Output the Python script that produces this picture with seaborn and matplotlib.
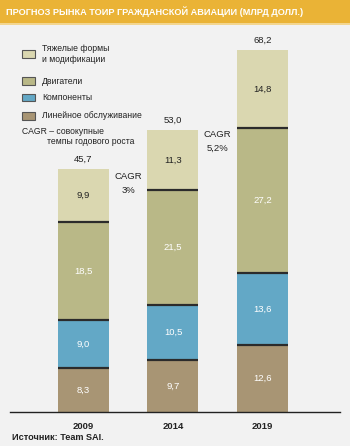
import matplotlib.pyplot as plt
import matplotlib.patches as mpatches
import pandas as pd
import seaborn as sns

# Data (млрд долл.)
years = ["2009", "2014", "2019"]
line_maint = [8.3, 9.7, 12.6]
components = [9.0, 10.5, 13.6]
engines = [18.5, 21.5, 27.2]
heavy = [9.9, 11.3, 14.8]
totals = [45.7, 53.0, 68.2]
cagr = ["3%", "5,2%"]

series_names = ["Линейное обслуживание", "Компоненты", "Двигатели",
                "Тяжелые формы\nи модификации"]
colors = ["#A89574", "#63A8C6", "#B9B887", "#DAD7B0"]
label_colors = ["white", "white", "white", "#222222"]

W, H = 350, 446
BG = "#F2F2F2"

sns.set_style("white")
plt.rcParams["font.family"] = ["Liberation Sans", "DejaVu Sans"]


def fx(x):
    return x / W


def fy(y):
    return 1 - y / H


fig = plt.figure(figsize=(W / 100, H / 100), dpi=100, facecolor=BG)
ax = fig.add_axes([fx(10), fy(412), (340 - 10) / W, (412 - 30) / H])
ax.set_facecolor(BG)

df = pd.DataFrame({"year": years, "line": line_maint, "comp": components,
                   "eng": engines, "heavy": heavy})
layers = ["line", "comp", "eng", "heavy"]
cum = df[layers].cumsum(axis=1)

# draw cumulative bars from the top layer down
for i in range(len(layers) - 1, -1, -1):
    sns.barplot(x=df["year"], y=cum[layers[i]], color=colors[i],
                width=0.57, saturation=1, linewidth=0, ax=ax)

bw = 0.57
for j in range(len(years)):
    bottom = 0
    for i, key in enumerate(layers):
        v = df[key][j]
        top = bottom + v
        if i < len(layers) - 1:
            ax.hlines(top, j - bw / 2, j + bw / 2, color="#2B2B2B", lw=1.6)
        ax.text(j, bottom + v / 2, f"{v:.1f}".replace(".", ","),
                ha="center", va="center", fontsize=6.8, color=label_colors[i])
        bottom = top
    ax.annotate(f"{totals[j]:.1f}".replace(".", ","), (j, totals[j]),
                xytext=(0, 7), textcoords="offset points", ha="center",
                va="center", fontsize=6.8, color="#222222")

# CAGR between bars
for k, c in enumerate(cagr):
    xk = k + 0.5
    yk = (totals[k] + totals[k + 1]) / 2 - 5.0 if k == 0 else totals[k] - 0.8
    ax.text(xk, yk, "CAGR", ha="center", va="center", fontsize=6.8,
            color="#222222")
    ax.text(xk, yk - 2.6, c, ha="center", va="center", fontsize=6.8,
            color="#222222")

ax.set_xlim(-0.821, 2.866)
ax.set_ylim(0, 71.9)
ax.set_xlabel("")
ax.set_ylabel("")
ax.set_yticks([])
ax.set_xticks(range(len(years)))
ax.set_xticklabels(years, fontsize=6.8, fontweight="bold", color="#222222")
ax.tick_params(axis="x", which="major", length=0, pad=7)
ax.set_xticks([0.5, 1.5], minor=True)
ax.tick_params(axis="x", which="minor", length=10, width=1.2,
               color="#555555", direction="out")
for s in ["top", "left", "right"]:
    ax.spines[s].set_visible(False)
ax.spines["bottom"].set_color("#222222")
ax.spines["bottom"].set_linewidth(1)

# title banner
fig.add_artist(mpatches.Rectangle((0, fy(23)), 1, 23 / H,
                                  transform=fig.transFigure,
                                  facecolor="#EAB336", edgecolor="none"))
fig.add_artist(mpatches.Rectangle((0, fy(25)), 1, 2 / H,
                                  transform=fig.transFigure,
                                  facecolor="#F3D690", edgecolor="none"))
fig.text(fx(6), fy(11.5), "ПРОГНОЗ РЫНКА ТОИР ГРАЖДАНСКОЙ АВИАЦИИ (МЛРД ДОЛЛ.)",
         color="white", fontsize=6.6, fontweight="bold", va="center",
         ha="left")

# legend
leg_y = [54, 81, 98, 116]
for i in range(3, -1, -1):
    y = leg_y[3 - i]
    fig.add_artist(mpatches.Rectangle((fx(22), fy(y + 3.5)), 13 / W, 7 / H,
                                      transform=fig.transFigure,
                                      facecolor=colors[i], edgecolor="#555555",
                                      lw=0.8))
    fig.text(fx(42), fy(y), series_names[i], fontsize=6.2, color="#222222",
             va="center", ha="left", linespacing=1.15)

fig.text(fx(22), fy(132), "CAGR – совокупные", fontsize=6.2,
         color="#222222", va="center")
fig.text(fx(47), fy(141), "темпы годового роста", fontsize=6.2,
         color="#222222", va="center")

fig.text(fx(12), fy(438), "Источник: Team SAI.", fontsize=6.6,
         fontweight="bold", color="#222222", va="center")

fig.savefig("out.png", dpi=100, facecolor=BG)
